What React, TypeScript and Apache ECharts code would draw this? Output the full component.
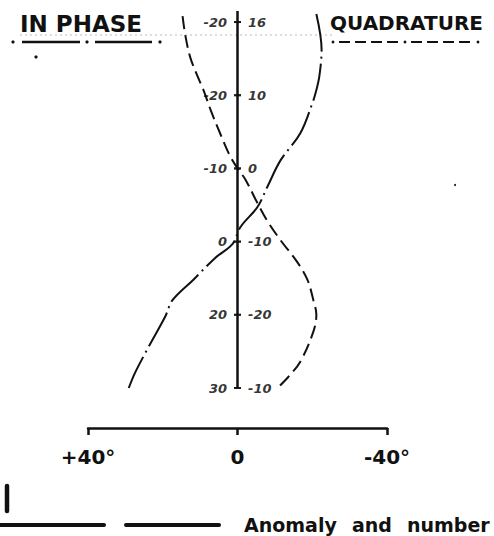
import React, { useEffect, useRef } from "react";
import * as echarts from "echarts";

// Vertical levels (axis stations), bottom = 0
const levels = [0, 1, 2, 3, 4, 5];
const leftLabels = ["30", "20", "0", "-10", "-20", "-20"];
const rightLabels = ["-10", "-20", "-10", "0", "10", "16"];

// In-phase curve: [angle (deg), level]
const inPhaseDeg = [-21.1, -22.5, -21.9, -21.1, -20.3, -16.8, -11.5, -8.0, -5.3, -0.8, 1.3, 5.9, 11.8, 17.4, 19.3, 23.8, 27.3, 29.1];
const inPhaseLvl = [5.11, 4.62, 4.26, 4.07, 3.93, 3.48, 3.11, 2.75, 2.47, 2.2, 1.97, 1.78, 1.48, 1.2, 0.98, 0.56, 0.22, 0.0];

// Quadrature curve
const quadDeg = [14.7, 13.9, 12.6, 10.7, 9.1, 7.2, 4.5, 1.9, -0.3, -2.1, -5.3, -8.0, -11.5, -16.0, -18.7, -20.3, -21.1, -20.3, -16.8, -13.4, -10.7];
const quadLvl = [5.08, 4.8, 4.51, 4.26, 4.07, 3.8, 3.46, 3.16, 2.98, 2.85, 2.53, 2.28, 2.02, 1.72, 1.48, 1.2, 1.0, 0.77, 0.36, 0.14, 0.0];

const xTicks = [-40, 0, 40];
const xTickLabels: Record<string, string> = { "-40": "-40°", "0": "0", "40": "+40°" };
const axisTop = 5.15;

const INK = "#111";

export default function App() {
  const ref = useRef<HTMLDivElement>(null);
  useEffect(() => {
    if (!ref.current) return;
    const chart = echarts.init(ref.current, undefined, { renderer: "svg" });
    const hand = { fontFamily: "DejaVu Sans", fontStyle: "italic" as const, fontWeight: "bold" as const, fontSize: 13, color: "#000" };
    chart.setOption({
      animation: false,
      backgroundColor: "#fff",
      grid: { left: 88, right: 107, top: 7.4, bottom: 148 },
      xAxis: {
        type: "value",
        inverse: true,
        min: xTicks[0],
        max: xTicks[2],
        interval: 40,
        offset: 40,
        splitLine: { show: false },
        axisLine: { show: true, onZero: false, lineStyle: { color: INK, width: 2.5 } },
        axisTick: { show: true, length: 7, lineStyle: { color: INK, width: 2.5 } },
        axisLabel: {
          margin: 19,
          fontFamily: "DejaVu Sans",
          fontWeight: "bold",
          fontSize: 20,
          color: INK,
          formatter: (v: number) => xTickLabels[String(v)] ?? "",
        },
      },
      yAxis: {
        type: "value",
        min: 0,
        max: 5.2,
        show: false,
      },
      series: [
        {
          type: "line",
          data: [[0, 0], [0, axisTop]],
          symbol: "none",
          lineStyle: { color: INK, width: 2.5 },
          z: 3,
        },
        {
          type: "scatter",
          data: levels.map((l, i) => ({
            value: [0, l],
            label: { show: true, position: "left", distance: 7, formatter: leftLabels[i], ...hand },
          })),
          symbol: "rect",
          symbolSize: [7, 2],
          itemStyle: { color: INK },
          z: 4,
        },
        {
          type: "scatter",
          data: levels.map((l, i) => ({
            value: [0, l],
            label: { show: true, position: "right", distance: 7, formatter: rightLabels[i], ...hand },
          })),
          symbol: "rect",
          symbolSize: [7, 2],
          itemStyle: { color: INK },
          z: 4,
        },
        {
          name: "IN PHASE",
          type: "line",
          smooth: 0.35,
          symbol: "none",
          data: inPhaseDeg.map((d, i) => [d, inPhaseLvl[i]]),
          lineStyle: { color: INK, width: 2, type: [38, 5, 2, 5] },
        },
        {
          name: "QUADRATURE",
          type: "line",
          smooth: 0.35,
          symbol: "none",
          data: quadDeg.map((d, i) => [d, quadLvl[i]]),
          lineStyle: { color: INK, width: 2, type: [13, 6] },
        },
      ],
      graphic: [
        { type: "line", shape: { x1: 20, y1: 35, x2: 335, y2: 35 }, style: { stroke: "#bbb", lineWidth: 1, lineDash: [2, 3] } },
        { type: "text", x: 20, y: 24, style: { text: "IN PHASE", font: "bold 23px 'DejaVu Sans'", fill: INK, verticalAlign: "middle" } },
        { type: "circle", shape: { cx: 13, cy: 42, r: 1.6 }, style: { fill: INK } },
        { type: "line", shape: { x1: 22, y1: 42, x2: 80, y2: 42 }, style: { stroke: INK, lineWidth: 2.5 } },
        { type: "circle", shape: { cx: 87, cy: 42, r: 1.6 }, style: { fill: INK } },
        { type: "line", shape: { x1: 95, y1: 42, x2: 152, y2: 42 }, style: { stroke: INK, lineWidth: 2.5 } },
        { type: "circle", shape: { cx: 160, cy: 42, r: 1.6 }, style: { fill: INK } },
        { type: "circle", shape: { cx: 36, cy: 57, r: 1.6 }, style: { fill: INK } },
        { type: "text", x: 330, y: 23, style: { text: "QUADRATURE", font: "bold 20px 'DejaVu Sans'", fill: INK, verticalAlign: "middle" } },
        { type: "circle", shape: { cx: 333, cy: 42, r: 1.4 }, style: { fill: INK } },
        { type: "line", shape: { x1: 339, y1: 42, x2: 400, y2: 42 }, style: { stroke: INK, lineWidth: 2.2, lineDash: [11, 5] } },
        { type: "circle", shape: { cx: 405, cy: 42, r: 1.4 }, style: { fill: INK } },
        { type: "line", shape: { x1: 411, y1: 42, x2: 474, y2: 42 }, style: { stroke: INK, lineWidth: 2.2, lineDash: [11, 5] } },
        { type: "circle", shape: { cx: 478, cy: 42, r: 1.4 }, style: { fill: INK } },
        { type: "circle", shape: { cx: 455, cy: 185, r: 1 }, style: { fill: INK } },
        { type: "line", shape: { x1: 7, y1: 486, x2: 7, y2: 511 }, style: { stroke: INK, lineWidth: 4.5, lineCap: "round" } },
        { type: "line", shape: { x1: 0, y1: 525, x2: 104, y2: 525 }, style: { stroke: INK, lineWidth: 4, lineCap: "round" } },
        { type: "line", shape: { x1: 126, y1: 525, x2: 219, y2: 525 }, style: { stroke: INK, lineWidth: 4, lineCap: "round" } },
        { type: "text", x: 244, y: 525, style: { text: "Anomaly", font: "bold 19px 'DejaVu Sans'", fill: INK, verticalAlign: "middle" } },
        { type: "text", x: 352, y: 525, style: { text: "and", font: "bold 19px 'DejaVu Sans'", fill: INK, verticalAlign: "middle" } },
        { type: "text", x: 407, y: 525, style: { text: "number", font: "bold 19px 'DejaVu Sans'", fill: INK, verticalAlign: "middle" } },
      ],
    });
    return () => chart.dispose();
  }, []);
  return <div ref={ref} style={{ position: "fixed", left: 0, top: 0, width: 494, height: 536 }} />;
}
